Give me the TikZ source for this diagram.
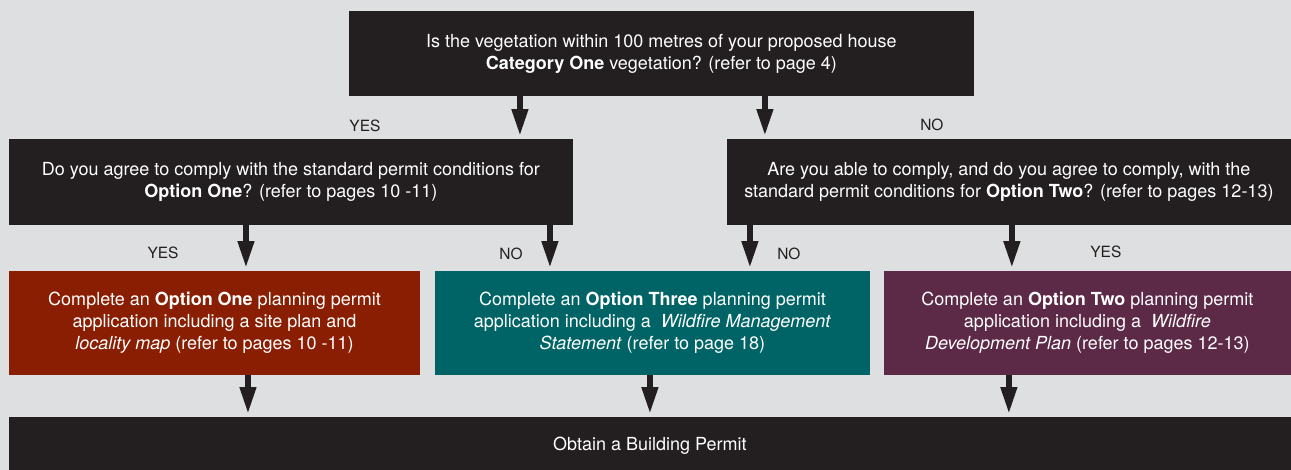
\documentclass[tikz,border=0pt]{standalone}
\usepackage{fontspec}
\setmainfont{TeX Gyre Heros}
\usetikzlibrary{arrows.meta}

\definecolor{boxdark}{HTML}{231F20}
\definecolor{optone}{HTML}{8A1E03}
\definecolor{optthree}{HTML}{006466}
\definecolor{opttwo}{HTML}{5C2947}
\definecolor{backgr}{HTML}{DEDFE0}

\begin{document}
\begin{tikzpicture}[x=0.025cm, y=-0.025cm,
    qbox/.style={fill=#1, text=white, inner sep=0pt, align=center,
        font=\fontsize{12.8}{15.8}\selectfont},
    qbox/.default=boxdark,
    flow/.style={draw=boxdark, line width=4pt,
        -{Triangle[width=11pt,length=19pt]}, shorten >=2pt},
    answer/.style={text=boxdark, font=\fontsize{11}{13}\selectfont}]
    % background
    \fill [backgr] (0,0) rectangle (1291,470);
    % question boxes
    \node (top) at (661.5,53.5) [qbox, minimum width=15.625cm, minimum height=2.125cm]
        {Is the vegetation within 100 metres of your proposed house\\
         \textbf{Category One} vegetation? (refer to page 4)};
    \node (q1) at (291,182) [qbox, minimum width=14.1cm, minimum height=2.15cm]
        {Do you agree to comply with the standard permit conditions for\\
         \textbf{Option One}? (refer to pages 10 -11)};
    \node (q2) at (1009,182) [qbox, minimum width=14.1cm, minimum height=2.15cm]
        {Are you able to comply, and do you agree to comply, with the\\
         standard permit conditions for \textbf{Option Two}? (refer to pages 12-13)};
    % option boxes
    \node (one) at (214.5,323) [qbox=optone, minimum width=10.275cm, minimum height=2.6cm]
        {Complete an \textbf{Option One} planning permit\\
         application including a site plan and\\
         \textit{locality map} (refer to pages 10 -11)};
    \node (three) at (652.5,323) [qbox=optthree, minimum width=10.875cm, minimum height=2.6cm]
        {Complete an \textbf{Option Three} planning permit\\
         application including a \ \textit{Wildfire Management}\\
         \textit{Statement} (refer to page 18)};
    \node (two) at (1087.5,323) [qbox=opttwo, minimum width=10.175cm, minimum height=2.6cm]
        {Complete an \textbf{Option Two} planning permit\\
         application including a \ \textit{Wildfire}\\
         \textit{Development Plan} (refer to pages 12-13)};
    \node (permit) at (650,443.5) [qbox, minimum width=32.05cm, minimum height=1.325cm,
        text depth=0pt]
        {Obtain a Building Permit};
    % arrow positions
    \coordinate (a1) at (520,0);
    \coordinate (a2) at (765,0);
    \coordinate (a3) at (246,0);
    \coordinate (a4) at (550,0);
    \coordinate (a5) at (750,0);
    \coordinate (a6) at (1012,0);
    \coordinate (a7) at (248,0);
    \coordinate (a8) at (650,0);
    \coordinate (a9) at (1009,0);
    \draw [flow] (top.south -| a1) -- (q1.north -| a1);
    \draw [flow] (top.south -| a2) -- (q2.north -| a2);
    \draw [flow] (q1.south -| a3) -- (one.north -| a3);
    \draw [flow] (q1.south -| a4) -- (three.north -| a4);
    \draw [flow] (q2.south -| a5) -- (three.north -| a5);
    \draw [flow] (q2.south -| a6) -- (two.north -| a6);
    \draw [flow] (one.south -| a7) -- (permit.north -| a7);
    \draw [flow] (three.south -| a8) -- (permit.north -| a8);
    \draw [flow] (two.south -| a9) -- (permit.north -| a9);
    % answers
    \node (yes1) at (365,126) [answer] {YES};
    \node (no1) at (932,125) [answer] {NO};
    \node (yes2) at (163,253) [answer] {YES};
    \node (no2) at (511,254) [answer] {NO};
    \node (no3) at (789,254) [answer] {NO};
    \node (yes3) at (1106,252) [answer] {YES};
\end{tikzpicture}
\end{document}
